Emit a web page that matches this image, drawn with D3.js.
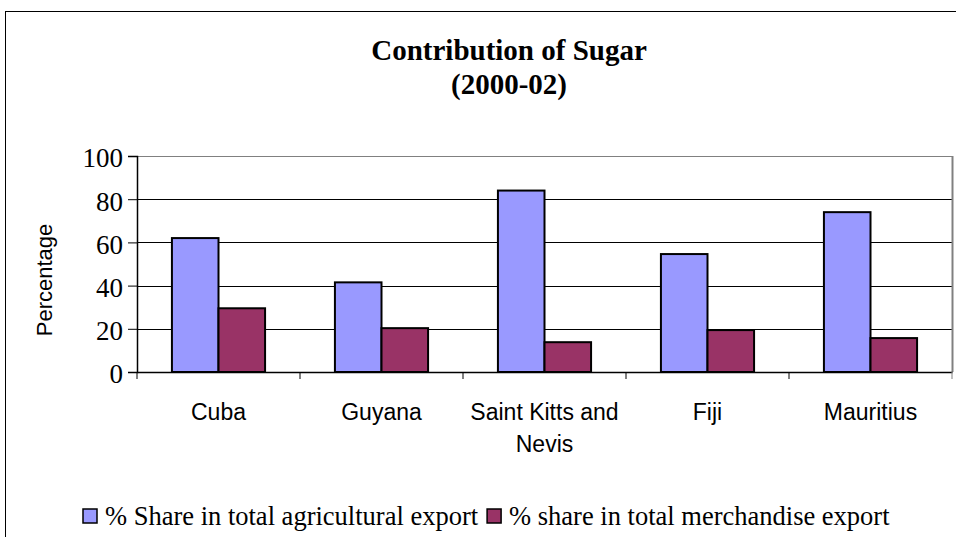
<!DOCTYPE html>
<html><head><meta charset="utf-8">
<script src="https://cdn.jsdelivr.net/npm/d3@7"></script>
<style>body{margin:0;background:#fff;overflow:hidden}</style>
</head><body><svg id="c" width="956" height="537"></svg>
<script>
const titleLines = ["Contribution of Sugar", "(2000-02)"];
const categories = ["Cuba", "Guyana", "Saint Kitts and Nevis", "Fiji", "Mauritius"];
const seriesNames = ["% Share in total agricultural export", "% share in total merchandise export"];
const agriShare = [62, 41.5, 84, 54.6, 74];
const merchShare = [29.5, 20.3, 13.8, 19.4, 15.7];
const yTicks = [0, 20, 40, 60, 80, 100];
const yTitle = "Percentage";

const colors = ["#9999FF", "#993366"];
const svg = d3.select("#c");
const M = {left: 137, right: 952, top: 156, bottom: 372};

// outer chart frame
svg.append("rect").attr("x", 5.5).attr("y", 11.5).attr("width", 1200).attr("height", 1200)
  .attr("fill", "#fff").attr("stroke", "#000").attr("stroke-width", 1);

const x = d3.scaleBand().domain(categories).range([M.left, M.right]).padding(0);
const y = d3.scaleLinear().domain([0, 100]).range([M.bottom, M.top]);
const bw = x.bandwidth() / 3.5;
const xs = d3.scaleBand().domain(seriesNames).range([0.75 * bw, 2.75 * bw]);

// gridlines
svg.append("g").selectAll("line").data(yTicks.filter(d => d > 0)).join("line")
  .attr("x1", M.left).attr("x2", M.right)
  .attr("y1", d => Math.round(y(d)) + 0.5).attr("y2", d => Math.round(y(d)) + 0.5)
  .attr("stroke", d => d === 100 ? "#808080" : "#000").attr("stroke-width", 1);
// right border of plot
svg.append("line").attr("x1", M.right + 0.5).attr("x2", M.right + 0.5)
  .attr("y1", y(100)).attr("y2", y(0)).attr("stroke", "#808080").attr("stroke-width", 2);

// bars
const data = categories.map((c, i) => ({c, v: [agriShare[i], merchShare[i]]}));
const groups = svg.append("g").selectAll("g").data(data).join("g")
  .attr("transform", d => `translate(${x(d.c)},0)`);
groups.selectAll("rect").data(d => d.v.map((v, k) => ({v, k}))).join("rect")
  .attr("x", d => xs(seriesNames[d.k]))
  .attr("y", d => y(d.v))
  .attr("width", xs.bandwidth())
  .attr("height", d => y(0) - y(d.v))
  .attr("fill", d => colors[d.k])
  .attr("stroke", "#000").attr("stroke-width", 2);

// y axis
const yAxis = d3.axisLeft(y).tickValues(yTicks).tickSize(9).tickPadding(5).tickFormat(d3.format("d"));
const gy = svg.append("g").attr("transform", `translate(${M.left},0)`).call(yAxis);
gy.select(".domain").attr("stroke", "#000").attr("stroke-width", 1.5);
gy.selectAll(".tick line").attr("stroke", "#000");
gy.selectAll(".tick text").attr("font-family", "'Liberation Serif', 'Times New Roman', serif")
  .attr("font-size", 27).attr("fill", "#000").attr("dy", "0.4em");

// x axis
const xAxis = d3.axisBottom(x).tickSize(0).tickFormat("");
const gx = svg.append("g").attr("transform", `translate(0,${M.bottom})`).call(xAxis);
gx.select(".domain").attr("stroke", "#000").attr("stroke-width", 1.5);
gx.selectAll(".tick").remove();
const bounds = [...categories.map(c => x(c)), M.right];
gx.selectAll("line.b").data(bounds).join("line").attr("class", "b")
  .attr("x1", d => d).attr("x2", d => d).attr("y1", 0).attr("y2", 7)
  .attr("stroke", (d, i) => i === bounds.length - 1 ? "#808080" : "#000").attr("stroke-width", 1);

// category labels (wrapped)
function wrapLabel(s) {
  return s === "Saint Kitts and Nevis" ? ["Saint Kitts and", "Nevis"] : [s];
}
const lbl = svg.append("g").attr("font-family", "'Liberation Sans', Arial, sans-serif")
  .attr("font-size", 23).attr("fill", "#000").attr("text-anchor", "middle");
categories.forEach(c => {
  const t = lbl.append("text").attr("x", x(c) + x.bandwidth() / 2).attr("y", 420);
  wrapLabel(c).forEach((line, i) => {
    t.append("tspan").attr("x", x(c) + x.bandwidth() / 2).attr("dy", i === 0 ? 0 : 32).text(line);
  });
});

// y title
svg.append("text").attr("transform", `translate(52,280) rotate(-90)`)
  .attr("text-anchor", "middle").attr("font-family", "'Liberation Sans', Arial, sans-serif")
  .attr("font-size", 22).text(yTitle);

// title
const tt = svg.append("text").attr("text-anchor", "middle")
  .attr("font-family", "'Liberation Serif', 'Times New Roman', serif")
  .attr("font-weight", "bold").attr("font-size", 29);
titleLines.forEach((l, i) => tt.append("tspan").attr("x", 509).attr("y", 60 + i * 34).text(l));

// legend
const lg = svg.append("g").attr("font-family", "'Liberation Serif', 'Times New Roman', serif").attr("font-size", 26.5);
let lx = 83;
seriesNames.forEach((s, k) => {
  lg.append("rect").attr("x", lx).attr("y", 509).attr("width", 14).attr("height", 14)
    .attr("fill", colors[k]).attr("stroke", "#000").attr("stroke-width", 1.5);
  const t = lg.append("text").attr("x", lx + 22).attr("y", 525).text(s);
  lx += 22 + t.node().getComputedTextLength() + 9;
});
</script></body></html>
